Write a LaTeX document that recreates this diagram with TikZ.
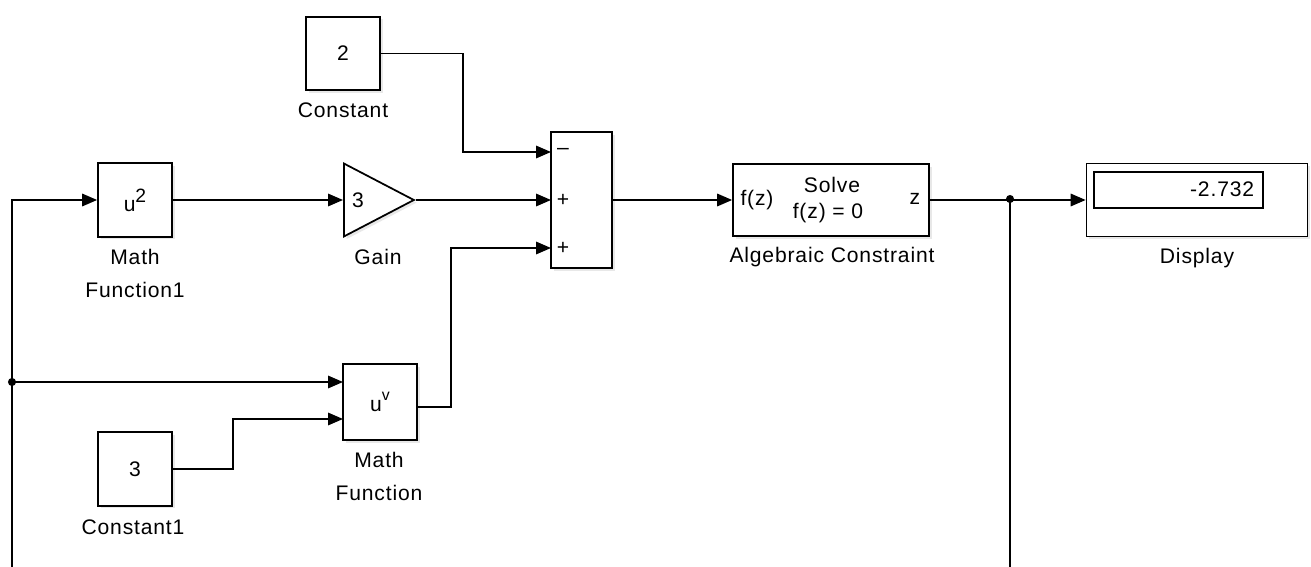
\documentclass[tikz,border=0pt]{standalone}
\usepackage{fontspec}
\setmainfont[LetterSpace=4]{Liberation Sans}
\usetikzlibrary{arrows.meta,shapes.geometric,shadows}

\begin{document}
\begin{tikzpicture}[x=0.02cm,y=-0.02cm,line width=1pt,
  >={Triangle[length=0.3cm,width=0.25cm]},
  font=\fontsize{12}{18.8}\selectfont,
  blk/.style={draw,fill=white,inner sep=0pt,
    drop shadow={shadow xshift=1.5pt,shadow yshift=-1.5pt,opacity=0.18}},
  sq/.style={blk,minimum width=1.48cm,minimum height=1.47cm},
  lbl/.style={align=center,inner sep=0pt},
  sig/.style={->},
  jn/.style={circle,fill,inner sep=0pt,minimum size=4.6pt}]
\fill[white] (0,0) rectangle (1311,567);
\useasboundingbox (0,0) rectangle (1311,567);
% ================ 上排：常数、平方、增益 ================
\node[sq] (cst) at (343,53.5) {2};
\node[lbl] (cstname) at (343,110) {Constant};
\node[sq] (mfa) at (135,200) {u\raisebox{0.42em}{\fontsize{11}{11}\selectfont 2}};
\node[lbl] (mfaname) at (135,273.5) {Math\\Function1};
\node[blk,isosceles triangle,isosceles triangle stretches,
  minimum width=1.46cm,minimum height=1.40cm,anchor=lower side] (gain) at (343,200) {};
\node[lbl] (gainval) at (358,200) {3};
\node[lbl] (gainname) at (378,257) {Gain};
% 求和块（三个输入端口）
\node[blk,minimum width=1.22cm,minimum height=2.72cm] (sum) at (581.5,200) {};
\node[lbl] (sgna) at (563,151) {\textendash};
\node[lbl] (sgnb) at (563,200) {+};
\node[lbl] (sgnc) at (563,248) {+};
\coordinate (suma) at (551,152);
\coordinate (sumb) at (551,200);
\coordinate (sumc) at (551,248);
% ================ 代数约束与显示 ================
\node[blk,minimum width=3.92cm,minimum height=1.44cm] (alg) at (831,200) {};
\node[lbl] (algin) at (757,200) {f(z)};
\node[lbl] (algsolve) at (832,185) {Solve};
\node[lbl] (algeq) at (828,213) {f(z) = 0};
\node[lbl] (algout) at (915,199) {z};
\node[lbl] (algname) at (832,257) {Algebraic Constraint};
\node[blk,minimum width=4.42cm,minimum height=1.46cm] (disp) at (1197,200) {};
\node[draw,inner sep=0pt,minimum width=3.38cm,minimum height=0.72cm] (dispwin) at (1178.5,190) {};
\node[lbl,anchor=east] (dispval) at (1255,189) {-2.732};
\node[lbl] (dispname) at (1197,258) {Display};
% ================ 下排：幂函数与常数 ================
\node[blk,minimum width=1.48cm,minimum height=1.52cm] (mfb) at (380,402)
  {u\raisebox{0.5em}{\fontsize{9}{9}\selectfont v}};
\node[lbl] (mfbname) at (379,476.5) {Math\\Function};
\coordinate (mfbina) at (343,382);
\coordinate (mfbinb) at (343,419);
\coordinate (mfbout) at (417,407);
\node[sq] (cstb) at (135,469) {3};
\node[lbl] (cstbname) at (133,527) {Constant1};
% 分支点与回路
\node[jn] (ja) at (12,382) {};
\node[jn] (jb) at (1010,199) {};
\coordinate (fbl) at (12,567);
\coordinate (fbr) at (1010,567);
% ================ 信号线 ================
\draw[sig] (fbl) |- (mfa.west);
\draw[sig] (ja.center) -- (mfbina);
\draw[sig] (cstb.east) -| (233,419) -- (mfbinb);
\draw[sig] (mfbout) -| (451,248) -- (sumc);
\draw[sig] (cst.east) -| (463,152) -- (suma);
\draw[sig] (mfa.east) -- (gain.lower side);
\draw[sig] (gain.apex) -- (sumb);
\draw[sig] (sum.east) -- (alg.west);
\draw[sig] (alg.east) -- (disp.west);
\draw (jb.center) -- (fbr);
\end{tikzpicture}
\end{document}
